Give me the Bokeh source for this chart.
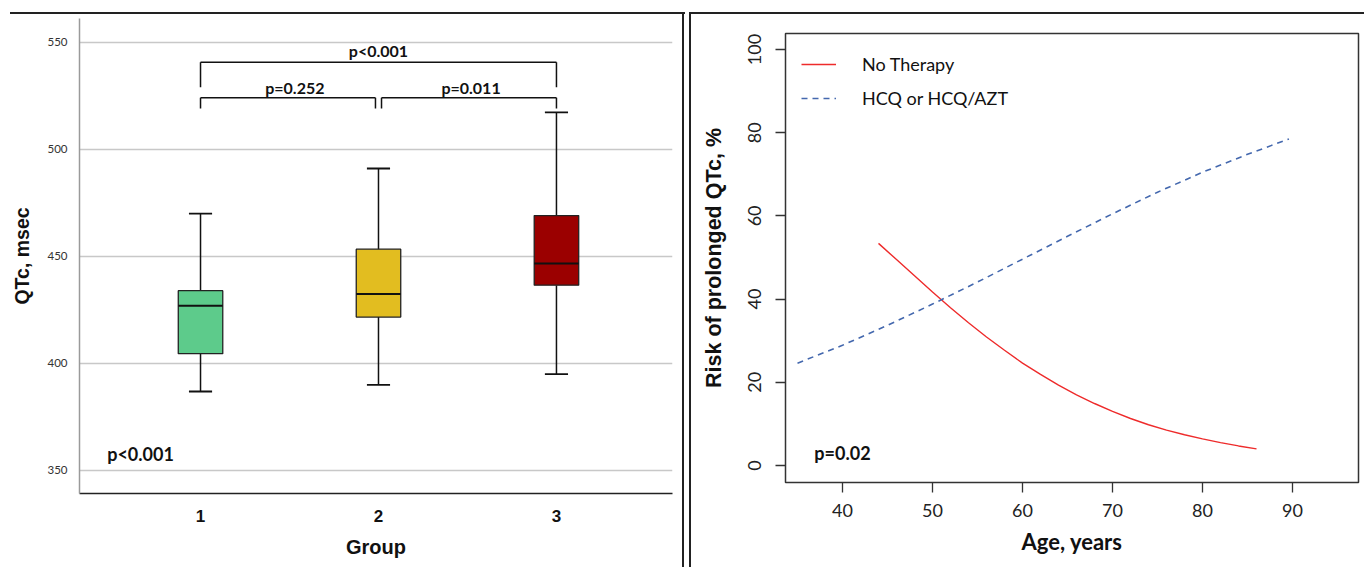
from bokeh.plotting import figure
from bokeh.models import Range1d, FixedTicker, Legend, LegendItem, Div, Spacer
from bokeh.layouts import row, column
from bokeh.core.properties import value
from bokeh.embed import file_html
from bokeh.resources import INLINE

# ---------------- data: left panel (box plot) ----------------
groups = [1, 2, 3]
q1 = [404.6, 421.7, 436.6]
median = [427.0, 432.5, 446.7]
q3 = [434.0, 453.4, 469.1]
whisker_low = [386.9, 390.0, 395.0]
whisker_high = [470.0, 491.1, 517.3]
box_colors = ["#5DCB8B", "#E2BD20", "#9B0000"]
left_ticks = [350, 400, 450, 500, 550]

pair_left = [1.0, 1.0, 2.017]
pair_right = [3.0, 1.983, 3.0]
bracket_top = [540.8, 524.2, 524.2]
bracket_drop = [529.1, 519.2, 519.2]
pair_text = ["p<0.001", "p=0.252", "p=0.011"]
pair_text_x = [2.0, 1.53, 2.52]
pair_text_y = [546.3, 529.0, 529.0]
overall_p = "p<0.001"
overall_p_x = [0.663]
overall_p_y = [357.9]

# ---------------- data: right panel (risk curves) ----------------
age_no_therapy = [44, 46, 48, 50, 52, 54, 56, 58, 60, 62, 64, 66, 68, 70,
                  72, 74, 76, 78, 80, 82, 84, 86]
risk_no_therapy = [53.4, 49.5, 45.6, 41.7, 37.9, 34.3, 30.9, 27.7, 24.6, 21.9,
                   19.3, 17.0, 14.9, 13.0, 11.3, 9.8, 8.5, 7.4, 6.4, 5.5, 4.7, 4.0]
age_hcq = [35, 40, 45, 50, 55, 60, 65, 70, 75, 80, 85, 89.6]
risk_hcq = [24.6, 28.9, 33.7, 38.8, 44.1, 49.6, 55.1, 60.5, 65.7, 70.5, 74.8, 78.5]
right_xticks = [40, 50, 60, 70, 80, 90]
right_yticks = [0, 20, 40, 60, 80, 100]
right_p = "p=0.02"
right_p_x = [40.0]
right_p_y = [2.9]

LATO = "Lato"
ARIAL = "Liberation Sans"
LINE = "#222222"


def bar(w, h):
    return Div(text="", width=w, height=h, margin=0,
               styles={"background-color": LINE})


# ---------------- left figure ----------------
pl = figure(width=682, height=553, output_backend="svg", toolbar_location=None,
            x_range=Range1d(0.32, 3.652), y_range=Range1d(339.25, 561.2),
            min_border_left=79, min_border_right=10,
            min_border_top=4, min_border_bottom=74)
pl.outline_line_color = None
pl.xgrid.grid_line_color = None
pl.ygrid.ticker = FixedTicker(ticks=left_ticks)
pl.ygrid.grid_line_color = "#c8c8c8"
pl.ygrid.grid_line_width = 1.5

pl.yaxis.ticker = FixedTicker(ticks=left_ticks)
pl.yaxis.axis_line_color = "#9a9a9a"
pl.yaxis.axis_line_width = 1.5
pl.yaxis.major_tick_line_color = None
pl.yaxis.minor_tick_line_color = None
pl.yaxis.major_label_text_font = LATO
pl.yaxis.major_label_text_font_size = "11.5px"
pl.yaxis.major_label_text_color = "#333333"
pl.yaxis.major_label_standoff = 6
pl.yaxis.axis_label = "QTc, msec"
pl.yaxis.axis_label_text_font = ARIAL
pl.yaxis.axis_label_text_font_style = "bold"
pl.yaxis.axis_label_text_font_size = "19.5px"
pl.yaxis.axis_label_text_color = "#111111"
pl.yaxis.axis_label_standoff = 11

pl.xaxis.ticker = FixedTicker(ticks=groups)
pl.xaxis.axis_line_color = "#222222"
pl.xaxis.axis_line_width = 1.5
pl.xaxis.major_tick_line_color = None
pl.xaxis.minor_tick_line_color = None
pl.xaxis.major_label_text_font = ARIAL
pl.xaxis.major_label_text_font_style = "bold"
pl.xaxis.major_label_text_font_size = "17px"
pl.xaxis.major_label_text_color = "#111111"
pl.xaxis.major_label_standoff = 10
pl.xaxis.axis_label = "Group"
pl.xaxis.axis_label_text_font = ARIAL
pl.xaxis.axis_label_text_font_style = "bold"
pl.xaxis.axis_label_text_font_size = "20px"
pl.xaxis.axis_label_text_color = "#111111"
pl.xaxis.axis_label_standoff = 11

BOX_W = 0.25
CAP_HALF = 0.065
MED_HALF = BOX_W / 2
pl.segment(x0=groups, y0=q3, x1=groups, y1=whisker_high, line_color="#111111", line_width=1.5)
pl.segment(x0=groups, y0=q1, x1=groups, y1=whisker_low, line_color="#111111", line_width=1.5)
pl.segment(x0=[g - CAP_HALF for g in groups], y0=whisker_high,
           x1=[g + CAP_HALF for g in groups], y1=whisker_high, line_color="#111111", line_width=1.8)
pl.segment(x0=[g - CAP_HALF for g in groups], y0=whisker_low,
           x1=[g + CAP_HALF for g in groups], y1=whisker_low, line_color="#111111", line_width=1.8)
pl.vbar(x=groups, width=BOX_W, bottom=q1, top=q3, fill_color=box_colors,
        line_color="#222222", line_width=1.3)
pl.segment(x0=[g - MED_HALF for g in groups], y0=median,
           x1=[g + MED_HALF for g in groups], y1=median, line_color="#111111", line_width=2)

pl.segment(x0=pair_left, y0=bracket_top, x1=pair_right, y1=bracket_top,
           line_color="#111111", line_width=1.5)
pl.segment(x0=pair_left + pair_right, y0=bracket_top + bracket_top,
           x1=pair_left + pair_right, y1=bracket_drop + bracket_drop,
           line_color="#111111", line_width=1.5)
pl.text(x=pair_text_x, y=pair_text_y, text=pair_text, text_font=value(LATO),
        text_font_style="bold", text_font_size=value("16px"), text_color="#111111",
        text_align="center", text_baseline="middle")
pl.text(x=overall_p_x, y=overall_p_y, text=[overall_p], text_font=value(LATO),
        text_font_style="bold", text_font_size=value("18px"), text_color="#111111",
        text_align="center", text_baseline="middle")

# ---------------- right figure ----------------
pr = figure(width=673, height=553, output_backend="svg", toolbar_location=None,
            x_range=Range1d(33.667, 97.33), y_range=Range1d(-4.09, 103.85),
            min_border_left=94, min_border_right=6,
            min_border_top=19, min_border_bottom=85)
pr.outline_line_color = "#333333"
pr.outline_line_width = 1.5
pr.grid.grid_line_color = None
for ax in (pr.xaxis, pr.yaxis):
    ax.axis_line_color = None
    ax.major_tick_line_color = "#333333"
    ax.major_tick_line_width = 1.3
    ax.major_tick_out = 10
    ax.major_tick_in = 0
    ax.minor_tick_line_color = None
    ax.major_label_text_font = LATO
    ax.major_label_text_font_size = "18px"
    ax.major_label_text_color = "#222222"
    ax.axis_label_text_font_style = "bold"
    ax.axis_label_text_color = "#111111"

pr.xaxis.ticker = FixedTicker(ticks=right_xticks)
pr.xaxis.major_label_standoff = 11
pr.xaxis.axis_label = "Age, years"
pr.xaxis.axis_label_text_font = LATO
pr.xaxis.axis_label_text_font_size = "22px"
pr.xaxis.axis_label_standoff = 8

pr.yaxis.ticker = FixedTicker(ticks=right_yticks)
pr.yaxis.major_label_orientation = "vertical"
pr.yaxis.major_label_standoff = 14
pr.yaxis.axis_label = "Risk of prolonged QTc, %"
pr.yaxis.axis_label_text_font = ARIAL
pr.yaxis.axis_label_text_font_size = "21.5px"
pr.yaxis.axis_label_standoff = 20

r_nt = pr.line(age_no_therapy, risk_no_therapy, line_color="#EE2B2B", line_width=1.4)
r_hcq = pr.line(age_hcq, risk_hcq, line_color="#4468AE", line_width=1.6, line_dash="6 5")

pr.text(x=right_p_x, y=right_p_y, text=[right_p], text_font=value(LATO),
        text_font_style="bold", text_font_size=value("18px"), text_color="#111111",
        text_align="center", text_baseline="middle")

legend = Legend(items=[LegendItem(label="No Therapy", renderers=[r_nt]),
                       LegendItem(label="HCQ or HCQ/AZT", renderers=[r_hcq])],
                location="top_left", margin=0, padding=16, spacing=4,
                glyph_width=35, glyph_height=30, label_height=30, label_standoff=26,
                label_text_font=LATO, label_text_font_size="18px",
                label_text_color="#111111",
                border_line_alpha=0, background_fill_alpha=0)
pr.add_layout(legend)

# ---------------- panel frames ----------------
left_block = column(
    Spacer(width=687, height=12, margin=0),
    row(Spacer(width=10, height=2, margin=0), bar(675, 2), Spacer(width=2, height=2, margin=0),
        spacing=0),
    row(pl, bar(2, 553), Spacer(width=3, height=553, margin=0), spacing=0),
    spacing=0)
right_block = column(
    Spacer(width=677, height=12, margin=0),
    row(Spacer(width=2, height=2, margin=0), bar(675, 2), spacing=0),
    row(Spacer(width=2, height=553, margin=0), bar(2, 553), pr, spacing=0),
    spacing=0)

layout = row(left_block, right_block, spacing=0)
open("out.html", "w").write(file_html(layout, INLINE))
